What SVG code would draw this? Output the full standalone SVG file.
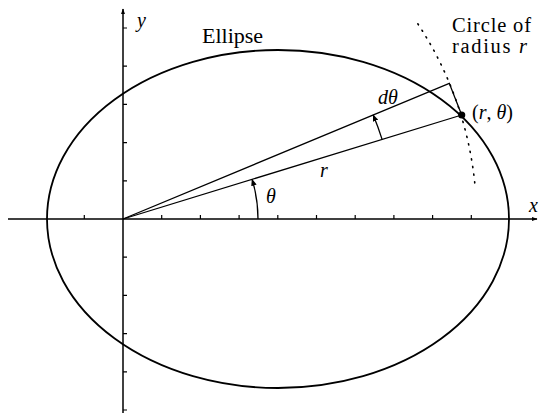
<svg xmlns="http://www.w3.org/2000/svg" width="546" height="413" viewBox="0 0 546 413">
<defs>
<marker id="ah" viewBox="0 0 10 10" refX="9" refY="5" markerWidth="7" markerHeight="7" markerUnits="userSpaceOnUse" orient="auto"><path d="M0,1 L10,5 L0,9 Z" fill="#000"/></marker>
<marker id="axh" viewBox="0 0 10 10" refX="9" refY="5" markerWidth="6" markerHeight="6" markerUnits="userSpaceOnUse" orient="auto"><path d="M0,1.5 L10,5 L0,8.5 Z" fill="#000"/></marker>
</defs>
<style>
.ln{stroke:#000;fill:none}
.ax{stroke-width:1.5}
.tk{stroke-width:1.2}
.rad{stroke-width:1.3}
.t{font-family:"Liberation Serif","DejaVu Serif",serif;fill:#000}
.big{font-size:22px}
.mid{font-size:20.5px}
.sm{font-size:20px}
.i{font-style:italic}
</style>
<rect width="546" height="413" fill="#fff"/>
<g id="axes">
<line class="ln ax" x1="8" y1="219" x2="537" y2="219" marker-end="url(#axh)"/>
<line class="ln ax" x1="123" y1="413" x2="123" y2="9" marker-end="url(#axh)"/>
<path class="ln tk" d="M84.3,219v-4 M161.7,219v-4 M200.4,219v-4 M239.1,219v-4 M277.8,219v-4 M316.5,219v-4 M355.2,219v-4 M393.9,219v-4 M432.6,219v-4 M471.3,219v-4"/>
<path class="ln tk" d="M123,28h4 M123,66.2h4 M123,104.4h4 M123,142.6h4 M123,180.8h4 M123,257.2h4 M123,295.4h4 M123,333.6h4 M123,371.8h4 M123,410h4"/>
<text class="t i sm" x="137" y="27">y</text>
<text class="t i sm" x="529" y="212">x</text>
</g>
<g id="ellipse">
<ellipse class="ln" cx="278" cy="219" rx="231" ry="169" stroke-width="1.8"/>
<text class="t big" x="202" y="43">Ellipse</text>
</g>
<g id="circle">
<path class="ln" d="M417.8,23.8 A353.6,353.6 0 0 1 474.8,183.3" stroke-width="1.6" stroke-dasharray="1.2 6.5" stroke-linecap="round"/>
<text class="t mid" x="452" y="32" textLength="79">Circle of</text>
<text class="t mid" x="452" y="53" textLength="75">radius <tspan class="i">r</tspan></text>
</g>
<g id="point">
<circle cx="461.7" cy="115" r="3.6" fill="#000"/>
<text class="t sm" x="472" y="119">(<tspan class="i">r</tspan>, <tspan class="i">θ</tspan>)</text>
</g>
<g id="connectors">
<line class="ln rad" x1="123" y1="219" x2="461.7" y2="115"/>
<polyline class="ln rad" points="123,219 449.3,83.3 461.7,115"/>
<path class="ln rad" d="M258,219 A135,135 0 0 0 252.1,179.4" marker-end="url(#ah)"/>
<path class="ln rad" d="M382.1,139.4 A271,271 0 0 0 373.2,114.9" marker-end="url(#ah)"/>
</g>
<g id="labels">
<text class="t i sm" x="320" y="177">r</text>
<text class="t i sm" x="266" y="203">θ</text>
<text class="t i sm" x="378" y="104">dθ</text>
</g>
</svg>
